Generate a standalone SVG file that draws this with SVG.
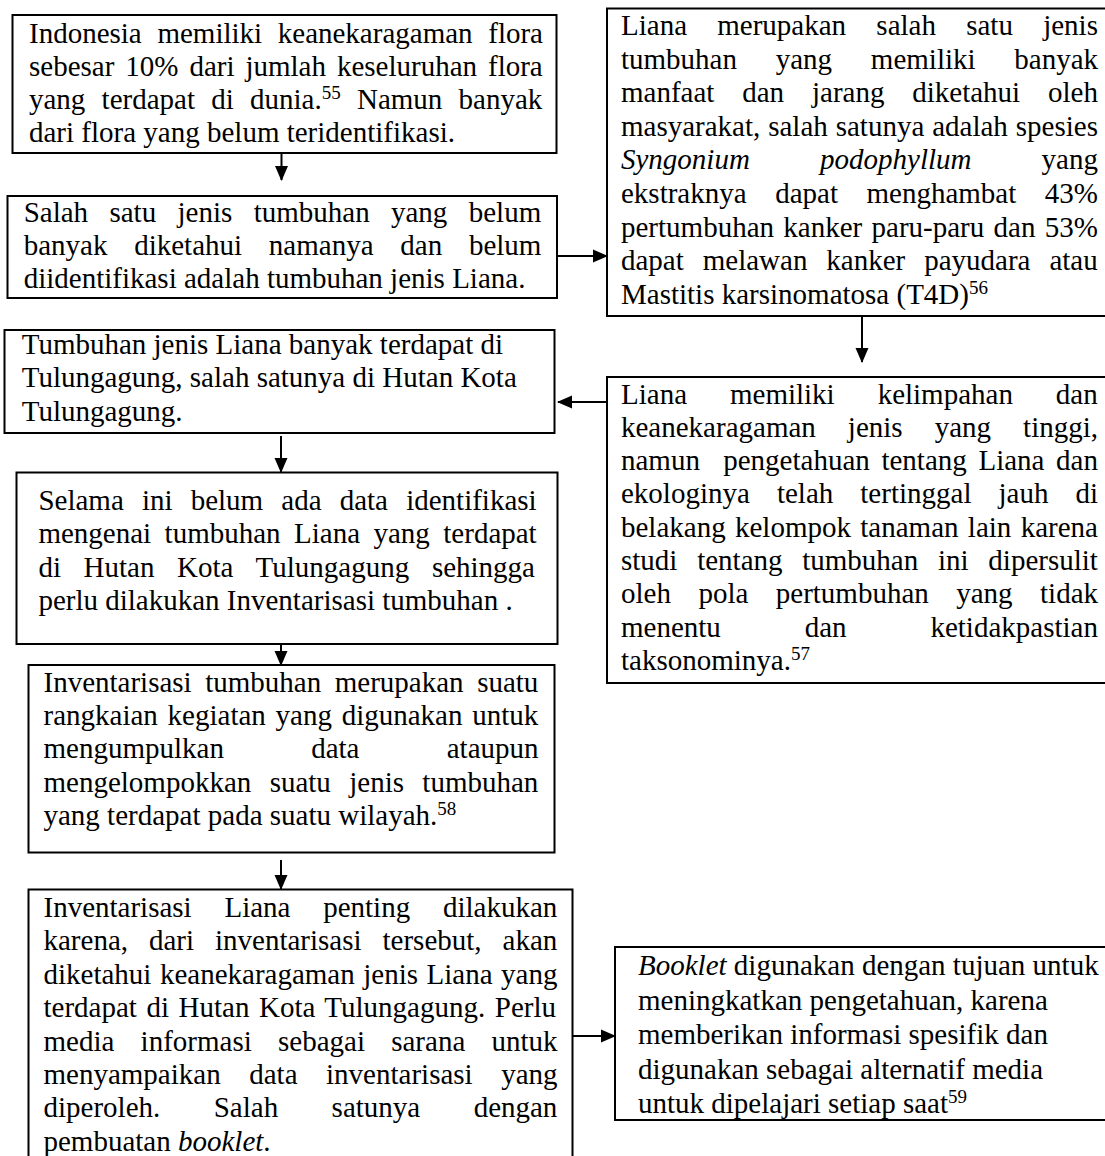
<svg xmlns="http://www.w3.org/2000/svg" width="1105" height="1156" viewBox="0 0 1105 1156">
<style>
.box{fill:#fff;stroke:#000;stroke-width:2}
.t{font-family:"Liberation Serif","Times New Roman",serif;font-size:29px;fill:#000}
.i{font-style:italic}
.sup{font-size:19px}
.c{stroke:#000;stroke-width:2;fill:none}
</style>
<defs>
<marker id="ah" markerWidth="15" markerHeight="14" refX="14" refY="7" orient="auto" markerUnits="userSpaceOnUse">
<path d="M0,0.5 L15,7 L0,13.5 z" fill="#000"/>
</marker>
</defs>
<rect width="1105" height="1156" fill="#fff"/>

<g id="connectors">
<line class="c" x1="281.5" y1="153" x2="281.5" y2="180" marker-end="url(#ah)"/>
<line class="c" x1="557" y1="256" x2="607" y2="256" marker-end="url(#ah)"/>
<line class="c" x1="862" y1="316" x2="862" y2="362" marker-end="url(#ah)"/>
<line class="c" x1="607" y1="402" x2="558" y2="402" marker-end="url(#ah)"/>
<line class="c" x1="281" y1="436" x2="281" y2="472" marker-end="url(#ah)"/>
<line class="c" x1="281" y1="644" x2="281" y2="665" marker-end="url(#ah)"/>
<line class="c" x1="281" y1="860" x2="281" y2="889" marker-end="url(#ah)"/>
<line class="c" x1="573" y1="1036" x2="615" y2="1036" marker-end="url(#ah)"/>
</g>

<g id="n1">
<rect class="box" x="12.5" y="15" width="544" height="138"/>
<text class="t" x="29" y="43" style="word-spacing:8.4px">Indonesia memiliki keanekaragaman flora</text>
<text class="t" x="29" y="76" style="word-spacing:3.7px">sebesar 10% dari jumlah keseluruhan flora</text>
<text class="t" x="29" y="109" style="word-spacing:9px">yang terdapat di dunia.<tspan class="sup" dy="-10">55</tspan><tspan dy="10"> Namun banyak</tspan></text>
<text class="t" x="29" y="142">dari flora yang belum teridentifikasi.</text>
</g>

<g id="n2">
<rect class="box" x="7.5" y="196" width="549.5" height="102"/>
<text class="t" x="23.7" y="222" style="word-spacing:14.1px">Salah satu jenis tumbuhan yang belum</text>
<text class="t" x="23.7" y="255" style="word-spacing:19.5px">banyak diketahui namanya dan belum</text>
<text class="t" x="23.7" y="288">diidentifikasi adalah tumbuhan jenis Liana.</text>
</g>

<g id="n3">
<rect class="box" x="607" y="8.5" width="510" height="307.5"/>
<text class="t" x="621" y="35" style="word-spacing:23px">Liana merupakan salah satu jenis</text>
<text class="t" x="621" y="68.6" style="word-spacing:31.5px">tumbuhan yang memiliki banyak</text>
<text class="t" x="621" y="102.2" style="word-spacing:20.6px">manfaat dan jarang diketahui oleh</text>
<text class="t" x="621" y="135.8" style="word-spacing:0.66px">masyarakat, salah satunya adalah spesies</text>
<text class="t" x="621" y="169.4" style="word-spacing:62.9px"><tspan class="i">Syngonium podophyllum</tspan> yang</text>
<text class="t" x="621" y="203" style="word-spacing:21.3px">ekstraknya dapat menghambat 43%</text>
<text class="t" x="621" y="236.6" style="word-spacing:2.07px">pertumbuhan kanker paru-paru dan 53%</text>
<text class="t" x="621" y="270.2" style="word-spacing:11.7px">dapat melawan kanker payudara atau</text>
<text class="t" x="621" y="303.8">Mastitis karsinomatosa (T4D)<tspan class="sup" dy="-10">56</tspan></text>
</g>

<g id="n4">
<rect class="box" x="607" y="377" width="510" height="306"/>
<text class="t" x="621" y="403.5" style="word-spacing:35.7px">Liana memiliki kelimpahan dan</text>
<text class="t" x="621" y="436.8" style="word-spacing:24.8px">keanekaragaman jenis yang tinggi,</text>
<text class="t" x="621" y="470.1" style="word-spacing:4.4px">namun&#160; pengetahuan tentang Liana dan</text>
<text class="t" x="621" y="503.4" style="word-spacing:19.8px">ekologinya telah tertinggal jauh di</text>
<text class="t" x="621" y="536.7" style="word-spacing:2.07px">belakang kelompok tanaman lain karena</text>
<text class="t" x="621" y="570" style="word-spacing:12.5px">studi tentang tumbuhan ini dipersulit</text>
<text class="t" x="621" y="603.3" style="word-spacing:20.2px">oleh pola pertumbuhan yang tidak</text>
<text class="t" x="621" y="636.6" style="word-spacing:76.6px">menentu dan ketidakpastian</text>
<text class="t" x="621" y="669.9">taksonominya.<tspan class="sup" dy="-10">57</tspan></text>
</g>

<g id="n5">
<rect class="box" x="4.5" y="330" width="550" height="103"/>
<text class="t" x="21.7" y="353.5">Tumbuhan jenis Liana banyak terdapat di</text>
<text class="t" x="21.7" y="387">Tulungagung, salah satunya di Hutan Kota</text>
<text class="t" x="21.7" y="420.5">Tulungagung.</text>
</g>

<g id="n6">
<rect class="box" x="16.5" y="472.5" width="541" height="171.5"/>
<text class="t" x="38.4" y="510" style="word-spacing:10.9px">Selama ini belum ada data identifikasi</text>
<text class="t" x="38.4" y="543.3" style="word-spacing:6.2px">mengenai tumbuhan Liana yang terdapat</text>
<text class="t" x="38.4" y="576.6" style="word-spacing:15.4px">di Hutan Kota Tulungagung sehingga</text>
<text class="t" x="38.4" y="610">perlu dilakukan Inventarisasi tumbuhan .</text>
</g>

<g id="n7">
<rect class="box" x="28.5" y="665" width="526" height="187.5"/>
<text class="t" x="43.5" y="691.7" style="word-spacing:6.3px">Inventarisasi tumbuhan merupakan suatu</text>
<text class="t" x="43.5" y="725" style="word-spacing:2.5px">rangkaian kegiatan yang digunakan untuk</text>
<text class="t" x="43.5" y="758.3" style="word-spacing:80px">mengumpulkan data ataupun</text>
<text class="t" x="43.5" y="791.6" style="word-spacing:11.1px">mengelompokkan suatu jenis tumbuhan</text>
<text class="t" x="43.5" y="824.9">yang terdapat pada suatu wilayah.<tspan class="sup" dy="-10">58</tspan></text>
</g>

<g id="n8">
<rect class="box" x="28.5" y="889.5" width="544" height="300"/>
<text class="t" x="43.5" y="917" style="word-spacing:25.5px">Inventarisasi Liana penting dilakukan</text>
<text class="t" x="43.5" y="950.4" style="word-spacing:13.7px">karena, dari inventarisasi tersebut, akan</text>
<text class="t" x="43.5" y="983.8" style="word-spacing:1.25px">diketahui keanekaragaman jenis Liana yang</text>
<text class="t" x="43.5" y="1017.2" style="word-spacing:2.3px">terdapat di Hutan Kota Tulungagung. Perlu</text>
<text class="t" x="43.5" y="1050.6" style="word-spacing:19px">media informasi sebagai sarana untuk</text>
<text class="t" x="43.5" y="1084" style="word-spacing:21.3px">menyampaikan data inventarisasi yang</text>
<text class="t" x="43.5" y="1117.4" style="word-spacing:46.2px">diperoleh. Salah satunya dengan</text>
<text class="t" x="43.5" y="1150.8">pembuatan <tspan class="i">booklet</tspan>.</text>
</g>

<g id="n9">
<rect class="box" x="615" y="947" width="500" height="173"/>
<text class="t" x="638" y="975"><tspan class="i">Booklet</tspan> digunakan dengan tujuan untuk</text>
<text class="t" x="638" y="1009.5">meningkatkan pengetahuan, karena</text>
<text class="t" x="638" y="1044">memberikan informasi spesifik dan</text>
<text class="t" x="638" y="1078.5">digunakan sebagai alternatif media</text>
<text class="t" x="638" y="1113">untuk dipelajari setiap saat<tspan class="sup" dy="-10">59</tspan></text>
</g>
</svg>
